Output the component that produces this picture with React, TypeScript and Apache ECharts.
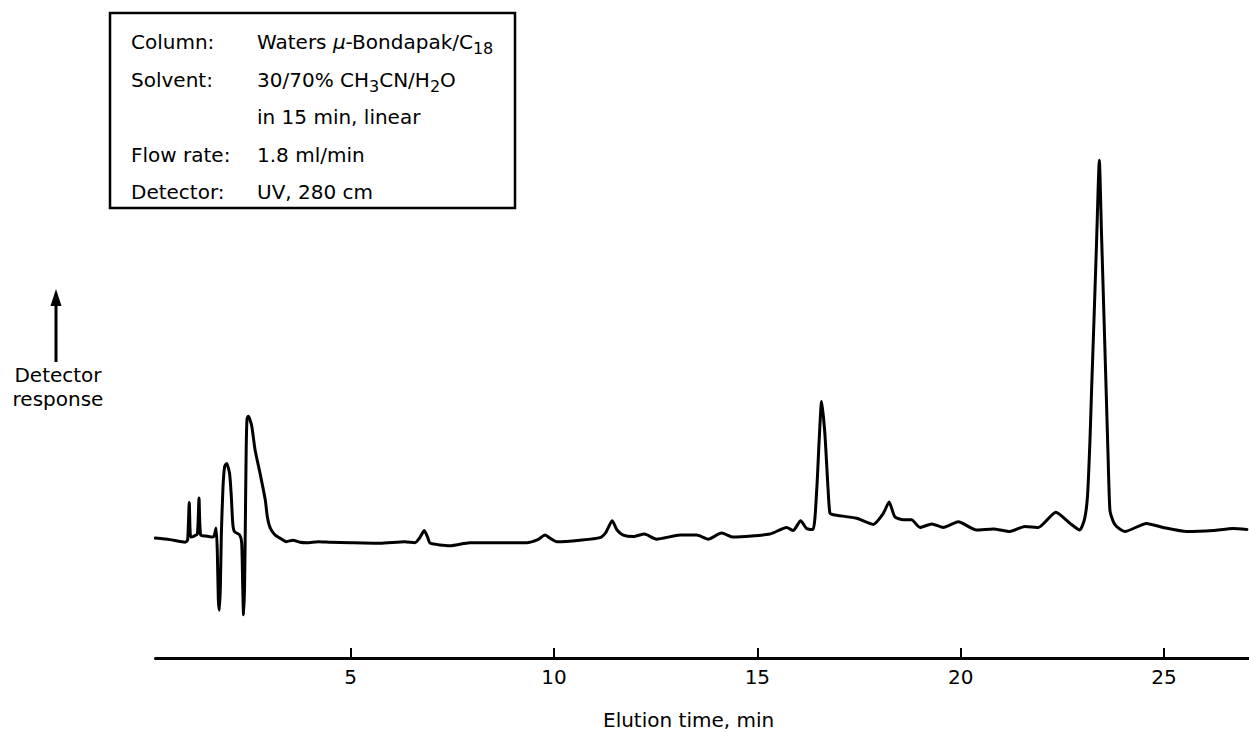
import React, { useEffect, useRef } from "react";
import * as echarts from "echarts";

const FONT = "DejaVu Sans";

// Elution time in minutes for each sampled point of the trace
const elutionTime: number[] = [
  0.19, 0.55, 0.93, 0.99, 1.03, 1.065, 1.15, 1.23, 1.27, 1.31, 1.44, 1.58, 1.64, 1.69, 1.72, 1.745,
  1.77, 1.795, 1.82, 1.86, 1.9, 1.95, 2.02, 2.06, 2.1, 2.14, 2.27, 2.32, 2.345, 2.365, 2.39, 2.41,
  2.43, 2.45, 2.48, 2.52, 2.57, 2.65, 2.77, 2.9, 2.95, 3.02, 3.14, 3.26, 3.42, 3.58, 3.75, 3.92,
  4.2, 4.5, 5.0, 5.72, 6.33, 6.58, 6.7, 6.81, 6.9, 6.95, 7.44, 7.93, 8.59, 9.33, 9.6, 9.78, 9.92,
  10.07, 10.64, 11.13, 11.28, 11.43, 11.55, 11.7, 11.95, 12.22, 12.52, 13.1, 13.51, 13.79, 14.12,
  14.41, 15.31, 15.72, 15.88, 16.065, 16.21, 16.37, 16.46, 16.52, 16.58, 16.66, 16.74, 16.785,
  16.87, 17.44, 17.85, 18.1, 18.24, 18.38, 18.59, 18.79, 19.0, 19.29, 19.57, 19.94, 20.39, 20.8,
  21.21, 21.58, 21.91, 22.34, 22.69, 22.93, 23.05, 23.12, 23.18, 23.22, 23.28, 23.34, 23.41, 23.46,
  23.5, 23.55, 23.58, 23.62, 23.67, 23.75, 23.83, 24.04, 24.57, 24.98, 25.56, 26.21, 26.7, 27.04,
];

// Detector response (arbitrary units, baseline near 0)
const response: number[] = [
  0.6, 0.3, -0.2, 0.2, 7.6, 0.8, 1.0, 1.4, 8.5, 1.2, 1.0, 0.8, 1.0, 2.6, -2.0, -11.5,
  -13.6, -9.0, 1.6, 10.7, 14.7, 15.3, 13.4, 9.4, 3.5, 1.9, 1.2, -0.4, -9.0, -14.5, -9.0, 4.0,
  18.0, 24.0, 24.6, 24.0, 22.5, 17.9, 13.4, 8.1, 4.8, 2.6, 1.2, 0.6, -0.1, 0.2, -0.2, -0.3,
  -0.1, -0.2, -0.3, -0.4, -0.1, -0.3, 0.7, 2.1, 0.6, -0.4, -0.9, -0.3, -0.3, -0.3, 0.3, 1.2, 0.5,
  -0.1, 0.2, 0.7, 1.8, 4.0, 2.2, 1.2, 0.9, 1.4, 0.4, 1.2, 1.2, 0.4, 1.6,
  0.8, 1.4, 2.7, 2.1, 4.0, 2.5, 2.3, 10.1, 19.9, 27.5, 21.2, 10.1, 5.5,
  5.2, 4.5, 3.3, 5.5, 7.7, 4.8, 4.2, 4.2, 2.7, 3.4, 2.7, 3.8, 2.2, 2.4,
  1.9, 2.9, 2.7, 5.7, 3.5, 2.2, 4.5, 9.0, 20.0, 30.0, 44.0, 58.5, 75.0, 61.4,
  50.6, 37.0, 28.9, 18.0, 6.1, 3.9, 2.9, 1.9, 3.5, 2.7, 1.9, 2.1, 2.5, 2.3,
];

const tickMinutes: number[] = [5, 10, 15, 20, 25];

// Chromatographic conditions printed in the framed legend
const conditionLabels: string[] = ["Column:", "Solvent:", "", "Flow rate:", "Detector:"];
const conditionValues: string[] = [
  "Waters {it|\u03bc}-Bondapak/C{sub|18}",
  "30/70% CH{sub|3}CN/H{sub|2}O",
  "in 15 min, linear",
  "1.8 ml/min",
  "UV, 280 cm",
];

const xAxisTitle = "Elution time, min";
const yAxisTitle = "Detector\nresponse";

export default function App() {
  const ref = useRef<HTMLDivElement>(null);

  useEffect(() => {
    if (!ref.current) return;
    const chart = echarts.init(ref.current, null, { renderer: "svg" });

    const rowY = [42, 80, 117, 155, 192];
    const textStyleBase = { fontFamily: FONT, fontSize: 20, fill: "#000" };
    const rich = {
      it: { fontFamily: FONT, fontSize: 20, fontStyle: "italic", color: "#000" },
      sub: { fontFamily: FONT, fontSize: 16, verticalAlign: "bottom", color: "#000" },
    };

    const legendTexts: any[] = [];
    conditionLabels.forEach((lab, i) => {
      if (lab) {
        legendTexts.push({
          type: "text",
          x: 131,
          y: rowY[i],
          style: { ...textStyleBase, text: lab, align: "left", verticalAlign: "middle" },
        });
      }
      legendTexts.push({
        type: "text",
        x: 257,
        y: rowY[i],
        style: {
          ...textStyleBase,
          text: conditionValues[i],
          rich,
          lineHeight: 28,
          align: "left",
          verticalAlign: "middle",
        },
      });
    });

    chart.setOption({
      animation: false,
      grid: { left: 155.5, right: 0, top: 150, bottom: 74 },
      xAxis: {
        type: "value",
        min: 0.2,
        max: 27.09,
        axisLine: { show: true, onZero: false, lineStyle: { color: "#000", width: 3 } },
        axisTick: {
          show: true,
          inside: true,
          length: 10,
          customValues: tickMinutes,
          lineStyle: { color: "#000", width: 2 },
        },
        axisLabel: {
          customValues: tickMinutes,
          color: "#000",
          fontFamily: FONT,
          fontSize: 20,
          margin: 9,
        },
        splitLine: { show: false },
      },
      yAxis: { type: "value", min: -23, max: 77, show: false },
      series: [
        {
          type: "line",
          data: elutionTime.map((t, i) => [t, response[i]]),
          symbol: "none",
          smooth: 0.2,
          clip: false,
          lineStyle: { color: "#000", width: 3, join: "round", cap: "round" },
        },
      ],
      graphic: [
        {
          type: "rect",
          shape: { x: 110, y: 13, width: 405, height: 195 },
          style: { fill: "#fff", stroke: "#000", lineWidth: 2.5 },
          z: 10,
        },
        ...legendTexts.map((t) => ({ ...t, z: 11 })),
        {
          type: "line",
          shape: { x1: 56, y1: 300, x2: 56, y2: 362 },
          style: { stroke: "#000", lineWidth: 3 },
        },
        {
          type: "polygon",
          shape: { points: [[56, 289], [50.5, 306], [61.5, 306]] },
          style: { fill: "#000" },
        },
        {
          type: "text",
          x: 58,
          y: 387,
          style: {
            ...textStyleBase,
            text: yAxisTitle,
            lineHeight: 24,
            align: "center",
            verticalAlign: "middle",
          },
        },
        {
          type: "text",
          x: 603,
          y: 720,
          style: { ...textStyleBase, text: xAxisTitle, align: "left", verticalAlign: "middle" },
        },
      ],
    });

    return () => chart.dispose();
  }, []);

  return (
    <div
      ref={ref}
      style={{ position: "absolute", left: 0, top: 0, width: 1249, height: 732, background: "#fff" }}
    />
  );
}
